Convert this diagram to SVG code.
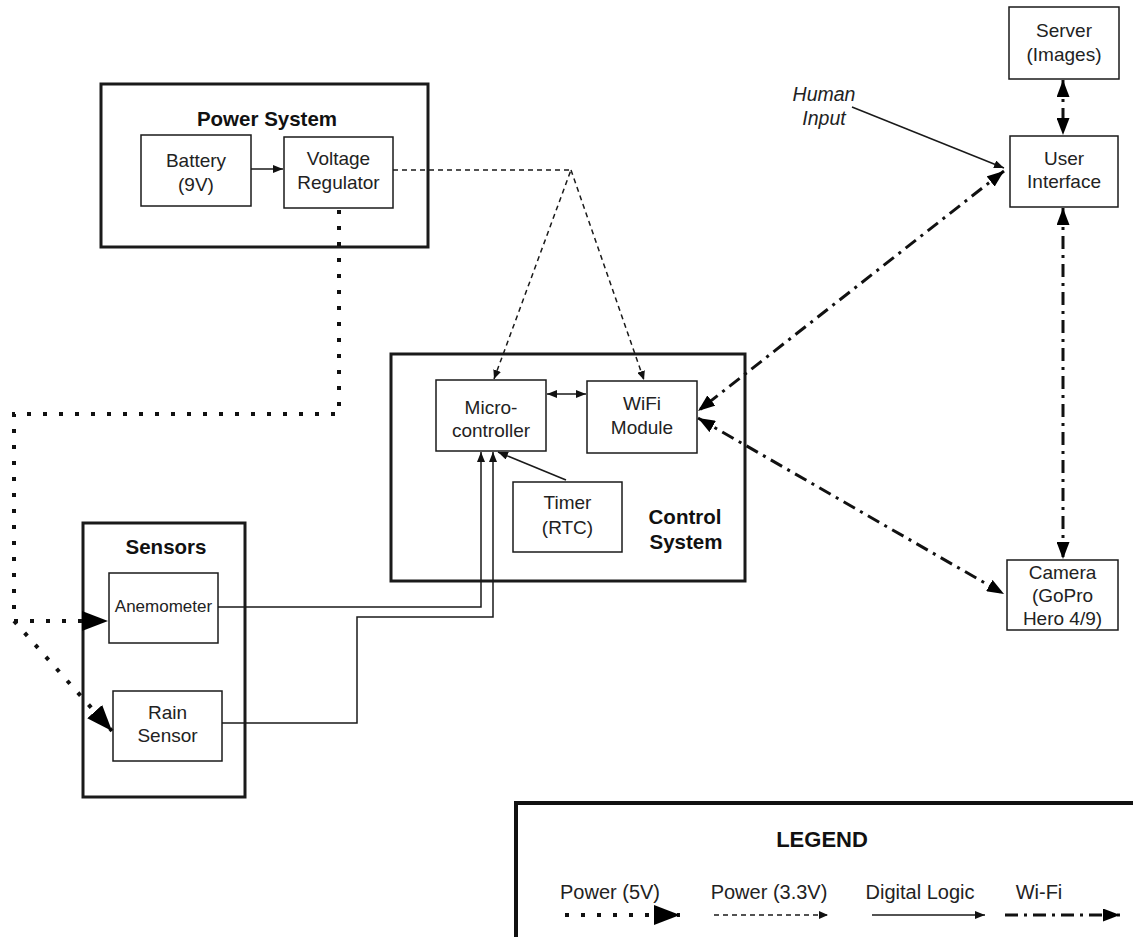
<svg xmlns="http://www.w3.org/2000/svg" width="1133" height="937" viewBox="0 0 1133 937">
<style>
.bg{fill:#fff}
.grp{fill:none;stroke:#1a1a1a;stroke-width:3}
.nd{fill:#fff;stroke:#1a1a1a;stroke-width:1.5}
.t{font-family:"Liberation Sans",Arial,sans-serif;font-size:19px;fill:#222;text-anchor:middle}
.tb{font-family:"Liberation Sans",Arial,sans-serif;font-size:20.5px;font-weight:bold;fill:#111;text-anchor:middle}
.ti{font-family:"Liberation Sans",Arial,sans-serif;font-size:19.5px;font-style:italic;fill:#222;text-anchor:middle}
.dl{fill:none;stroke:#1a1a1a;stroke-width:1.5}
.p33{fill:none;stroke:#1a1a1a;stroke-width:1.5;stroke-dasharray:5 4}
.p5{fill:none;stroke:#111;stroke-width:4;stroke-dasharray:4 12}
.wf{fill:none;stroke:#111;stroke-width:3;stroke-dasharray:13 6 3 6}
</style>
<defs>
<marker id="mdl" markerUnits="userSpaceOnUse" markerWidth="10" markerHeight="8" refX="10" refY="4" orient="auto-start-reverse"><path d="M0,0 L10,4 L0,8 z" fill="#111"/></marker>
<marker id="m33" markerUnits="userSpaceOnUse" markerWidth="9" markerHeight="8" refX="9" refY="4" orient="auto-start-reverse"><path d="M0,0 L9,4 L0,8 z" fill="#111"/></marker>
<marker id="m5" markerUnits="userSpaceOnUse" markerWidth="26" markerHeight="20" refX="26" refY="10" orient="auto-start-reverse"><path d="M0,0 L26,10 L0,20 z" fill="#000"/></marker>
<marker id="mwf" markerUnits="userSpaceOnUse" markerWidth="17" markerHeight="13" refX="17" refY="6.5" orient="auto-start-reverse"><path d="M0,0 L17,6.5 L0,13 z" fill="#000"/></marker>
</defs>
<rect class="bg" x="0" y="0" width="1133" height="937"/>

<g id="power-system">
<rect class="grp" x="101" y="84" width="327" height="163"/>
<text class="tb" x="267" y="126">Power System</text>
</g>
<g id="battery">
<rect class="nd" x="141" y="135" width="110" height="71"/>
<text class="t" x="196" y="167">Battery</text>
<text class="t" x="196" y="191">(9V)</text>
</g>
<g id="voltage-regulator">
<rect class="nd" x="284" y="137" width="109" height="71"/>
<text class="t" x="338.5" y="165">Voltage</text>
<text class="t" x="338.5" y="189">Regulator</text>
</g>

<g id="control-system">
<rect class="grp" x="391" y="354" width="354" height="227"/>
<text class="tb" x="685" y="524">Control</text>
<text class="tb" x="686" y="549">System</text>
</g>
<g id="microcontroller">
<rect class="nd" x="436" y="380" width="110" height="71"/>
<text class="t" x="491" y="414">Micro-</text>
<text class="t" x="491" y="437">controller</text>
</g>
<g id="wifi-module">
<rect class="nd" x="587" y="381" width="110" height="72"/>
<text class="t" x="642" y="410">WiFi</text>
<text class="t" x="642" y="434">Module</text>
</g>
<g id="timer">
<rect class="nd" x="513" y="482" width="109" height="70"/>
<text class="t" x="567.5" y="509">Timer</text>
<text class="t" x="567.5" y="534">(RTC)</text>
</g>

<g id="sensors">
<rect class="grp" x="83" y="523" width="162" height="274"/>
<text class="tb" x="166" y="554">Sensors</text>
</g>
<g id="anemometer">
<rect class="nd" x="109" y="573" width="109" height="70"/>
<text class="t" x="163.5" y="612" style="font-size:17px">Anemometer</text>
</g>
<g id="rain-sensor">
<rect class="nd" x="113" y="691" width="109" height="70"/>
<text class="t" x="167.5" y="719">Rain</text>
<text class="t" x="167.5" y="742">Sensor</text>
</g>

<g id="server">
<rect class="nd" x="1009" y="7" width="110" height="72"/>
<text class="t" x="1064" y="37">Server</text>
<text class="t" x="1064" y="61">(Images)</text>
</g>
<g id="user-interface">
<rect class="nd" x="1010" y="136" width="108" height="71"/>
<text class="t" x="1064" y="165">User</text>
<text class="t" x="1064" y="188">Interface</text>
</g>
<g id="camera">
<rect class="nd" x="1007" y="560" width="111" height="70"/>
<text class="t" x="1062.5" y="579">Camera</text>
<text class="t" x="1062.5" y="602">(GoPro</text>
<text class="t" x="1062.5" y="625">Hero 4/9)</text>
</g>
<g id="human-input">
<text class="ti" x="824" y="101">Human</text>
<text class="ti" x="824" y="125">Input</text>
</g>

<g id="connectors">
<line class="dl" x1="251" y1="169" x2="283" y2="169" marker-end="url(#mdl)"/>
<polyline class="p33" points="393,170 571,170 494,379" marker-end="url(#m33)"/>
<line class="p33" x1="571" y1="170" x2="644" y2="380" marker-end="url(#m33)"/>
<line class="dl" x1="547" y1="394" x2="586" y2="394" marker-start="url(#mdl)" marker-end="url(#mdl)"/>
<line class="dl" x1="566" y1="480" x2="498" y2="452" marker-end="url(#mdl)"/>
<polyline class="dl" points="218,607 481,607 481,452" marker-end="url(#mdl)"/>
<polyline class="dl" points="222,723 357,723 357,617 493,617 493,452" marker-end="url(#mdl)"/>
<polyline class="p5" points="339,210 339,414 14,414 14,621 108,621" marker-end="url(#m5)"/>
<line class="p5" x1="14" y1="621" x2="112" y2="731" marker-end="url(#m5)"/>
<line class="wf" x1="1004" y1="171" x2="698" y2="411" marker-start="url(#mwf)" marker-end="url(#mwf)"/>
<line class="wf" x1="698" y1="418" x2="1004" y2="594" marker-start="url(#mwf)" marker-end="url(#mwf)"/>
<line class="wf" x1="1063" y1="80" x2="1063" y2="135" marker-start="url(#mwf)" marker-end="url(#mwf)"/>
<line class="wf" x1="1063" y1="208" x2="1063" y2="559" marker-start="url(#mwf)" marker-end="url(#mwf)"/>
<line class="dl" x1="852" y1="107" x2="1004" y2="168" marker-end="url(#mdl)"/>
</g>

<g id="legend">
<rect x="516" y="803" width="640" height="160" fill="none" stroke="#111" stroke-width="4"/>
<text class="tb" x="822" y="847" style="font-size:22px">LEGEND</text>
<text class="t" x="610" y="899" style="font-size:20px">Power (5V)</text>
<text class="t" x="769" y="899" style="font-size:20px">Power (3.3V)</text>
<text class="t" x="920" y="899" style="font-size:20px">Digital Logic</text>
<text class="t" x="1039" y="899" style="font-size:20px">Wi-Fi</text>
<line class="p5" x1="565" y1="915" x2="680" y2="915" marker-end="url(#m5)"/>
<line class="p33" x1="714" y1="915" x2="828" y2="915" marker-end="url(#m33)"/>
<line class="dl" x1="872" y1="915" x2="985" y2="915" marker-end="url(#mdl)"/>
<line class="wf" x1="1005" y1="915" x2="1120" y2="915" marker-end="url(#mwf)"/>
</g>
</svg>
